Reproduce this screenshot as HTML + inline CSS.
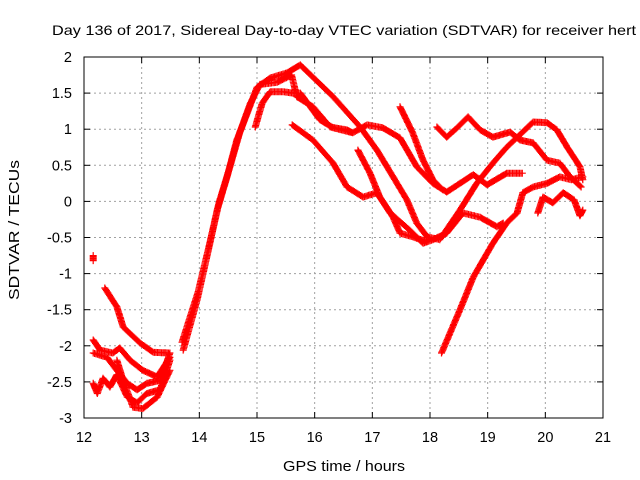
<!DOCTYPE html>
<html><head><meta charset="utf-8"><style>
body{margin:0;background:#fff;}
svg{display:block;font-family:"Liberation Sans",sans-serif;}
</style></head><body>
<svg id="chart" width="640" height="480" viewBox="0 0 640 480">
<rect width="640" height="480" fill="#fff"/>
<text x="52" y="35" font-size="14" textLength="584" lengthAdjust="spacingAndGlyphs" fill="#000">Day 136 of 2017, Sidereal Day-to-day VTEC variation (SDTVAR) for receiver hert</text>
<g id="grid"></g>
<g id="marks"></g>
<rect x="84" y="57" width="519" height="361" fill="none" stroke="#000" stroke-width="1"/>
<g id="ticks"></g>
<text x="283" y="471" font-size="14.5" textLength="122" lengthAdjust="spacingAndGlyphs">GPS time / hours</text>
<text transform="translate(19,300) rotate(-90)" font-size="14.5" textLength="140" lengthAdjust="spacingAndGlyphs">SDTVAR / TECUs</text>
</svg>
<script>
const xTicks=[12,13,14,15,16,17,18,19,20,21];
const yTicks=[2,1.5,1,0.5,0,-0.5,-1,-1.5,-2,-2.5,-3];
const yTickLabels=["2","1.5","1","0.5","0","-0.5","-1","-1.5","-2","-2.5","-3"];
const track1=[[13.72,-2.06],[13.96,-1.37],[14.13,-0.77],[14.31,-0.12],[14.48,0.34],[14.65,0.85],[14.83,1.22],[15.0,1.58],[15.23,1.71],[15.52,1.78],[15.75,1.89],[16.32,1.45],[16.79,1.03],[17.08,0.71],[17.36,0.34],[17.6,0.02],[17.77,-0.3],[17.95,-0.49],[18.17,-0.53],[18.52,-0.12],[18.81,0.25],[19.09,0.53],[19.33,0.75],[19.79,1.1],[20.03,1.09],[20.2,0.99],[20.38,0.75],[20.6,0.48],[20.65,0.3]];
const track1b=[[13.7,-1.95],[13.98,-1.25],[14.16,-0.65],[14.34,-0.02],[14.52,0.45],[14.7,0.95],[14.88,1.35],[15.05,1.62],[15.35,1.65],[15.6,1.75],[15.69,1.45],[15.97,1.31],[16.27,1.03],[16.56,0.99],[16.66,0.95]];
const track2=[[14.97,1.03],[15.09,1.36],[15.23,1.52],[15.45,1.52],[15.62,1.5],[15.75,1.5],[16.09,1.13],[16.32,1.02],[16.66,0.95],[16.91,1.06],[17.18,1.02],[17.48,0.88],[17.77,0.48],[18.05,0.25],[18.29,0.13],[18.52,0.25],[18.75,0.37],[18.99,0.23],[19.33,0.39],[19.6,0.39]];
const track3=[[15.61,1.06],[15.97,0.85],[16.32,0.53],[16.56,0.2],[16.84,0.06],[17.08,0.12],[17.31,-0.16],[17.65,-0.4],[17.88,-0.58],[18.05,-0.53],[18.29,-0.44],[18.57,-0.16],[18.87,-0.22],[19.16,-0.35],[19.27,-0.3]];
const track4=[[18.2,-2.1],[18.52,-1.5],[18.75,-1.05],[19.09,-0.58],[19.33,-0.3],[19.51,-0.16],[19.61,0.12],[19.79,0.2],[20.03,0.25],[20.25,0.34],[20.45,0.3],[20.65,0.34]];
const track5=[[17.48,1.31],[17.7,0.95],[17.88,0.57],[18.05,0.3],[18.22,0.16]];
const track6=[[18.12,1.03],[18.29,0.89],[18.47,1.02],[18.66,1.17],[18.87,0.99],[19.09,0.89],[19.39,0.96],[19.56,0.85],[19.79,0.81],[20.03,0.57],[20.25,0.53],[20.43,0.34],[20.62,0.2]];
const track7=[[16.75,0.71],[16.96,0.39],[17.13,0.06],[17.36,-0.22],[17.48,-0.44],[17.7,-0.49],[17.95,-0.56]];
const track8=[[19.87,-0.16],[19.96,0.06],[20.13,-0.02],[20.31,0.12],[20.5,0.02],[20.6,-0.2],[20.65,-0.12]];
const trackL1=[[12.36,-1.2],[12.57,-1.46],[12.68,-1.74],[12.97,-1.96],[13.2,-2.09],[13.49,-2.1]];
const trackL2=[[12.16,-1.92],[12.28,-2.06],[12.5,-2.1],[12.62,-2.03],[12.8,-2.2],[13.02,-2.34],[13.27,-2.43],[13.49,-2.16]];
const trackL3=[[12.16,-2.1],[12.4,-2.16],[12.57,-2.34],[12.75,-2.52],[12.92,-2.61],[13.09,-2.52],[13.32,-2.48],[13.49,-2.1]];
const trackL4=[[12.16,-2.52],[12.23,-2.66],[12.33,-2.45],[12.45,-2.57],[12.57,-2.4],[12.75,-2.71],[12.92,-2.79],[13.09,-2.66],[13.32,-2.61],[13.49,-2.2]];
const trackL5=[[12.57,-2.2],[12.68,-2.48],[12.85,-2.85],[13.02,-2.87],[13.27,-2.71],[13.49,-2.34]];
const trackDots=[[12.16,-0.75],[12.16,-0.82]];
const tracks=[track1,track1b,track2,track3,track4,track5,track6,track7,track8,trackL1,trackL2,trackL3,trackL4,trackL5,trackDots];

const NS="http://www.w3.org/2000/svg";
const X=v=>84+(v-12)*519/9;
const Y=v=>57+(2-v)*361/5;
const grid=document.getElementById('grid'),ticks=document.getElementById('ticks'),marks=document.getElementById('marks');
function mk(t,a,p){const e=document.createElementNS(NS,t);for(const k in a)e.setAttribute(k,a[k]);p.appendChild(e);return e;}
xTicks.forEach((t,i)=>{
  const x=X(t);
  if(i>0&&i<xTicks.length-1){const g=mk('line',{x1:x,y1:57,x2:x,y2:418,stroke:'#a0a0a0','stroke-dasharray':'2,3'},grid);
  
  }
  mk('line',{x1:x,y1:418,x2:x,y2:412,stroke:'#000'},ticks);
  mk('line',{x1:x,y1:57,x2:x,y2:63,stroke:'#000'},ticks);
  const l=mk('text',{x:x,y:442,'font-size':14.5,'text-anchor':'middle'},ticks);l.textContent=t;
  
  
});
yTicks.forEach((t,i)=>{
  const y=Y(t);
  if(i>0&&i<yTicks.length-1){const g=mk('line',{x1:84,y1:y,x2:603,y2:y,stroke:'#a0a0a0','stroke-dasharray':'2,3'},grid);
  
  }
  mk('line',{x1:84,y1:y,x2:90,y2:y,stroke:'#000'},ticks);
  mk('line',{x1:603,y1:y,x2:597,y2:y,stroke:'#000'},ticks);
  const l=mk('text',{x:72,y:y+5,'font-size':14.5,'text-anchor':'end'},ticks);l.textContent=yTickLabels[i];
  
  
});
let d='';
function plus(x,y){d+=`M${(x-3.5).toFixed(1)} ${y.toFixed(1)}h7M${x.toFixed(1)} ${(y-3.5).toFixed(1)}v7`;}
tracks.forEach(tr=>{
  for(let i=0;i<tr.length;i++){
    const x0=X(tr[i][0]),y0=Y(tr[i][1]);
    plus(x0,y0);
    if(i<tr.length-1){
      const x1=X(tr[i+1][0]),y1=Y(tr[i+1][1]);
      const n=Math.max(1,Math.ceil(Math.hypot(x1-x0,y1-y0)/1.5));
      for(let k=1;k<n;k++){plus(x0+(x1-x0)*k/n,y0+(y1-y0)*k/n);}
    }
  }
});
const p=mk('path',{d:d,stroke:'#ff0000','stroke-width':1.2,fill:'none'},marks);


</script>
</body></html>
